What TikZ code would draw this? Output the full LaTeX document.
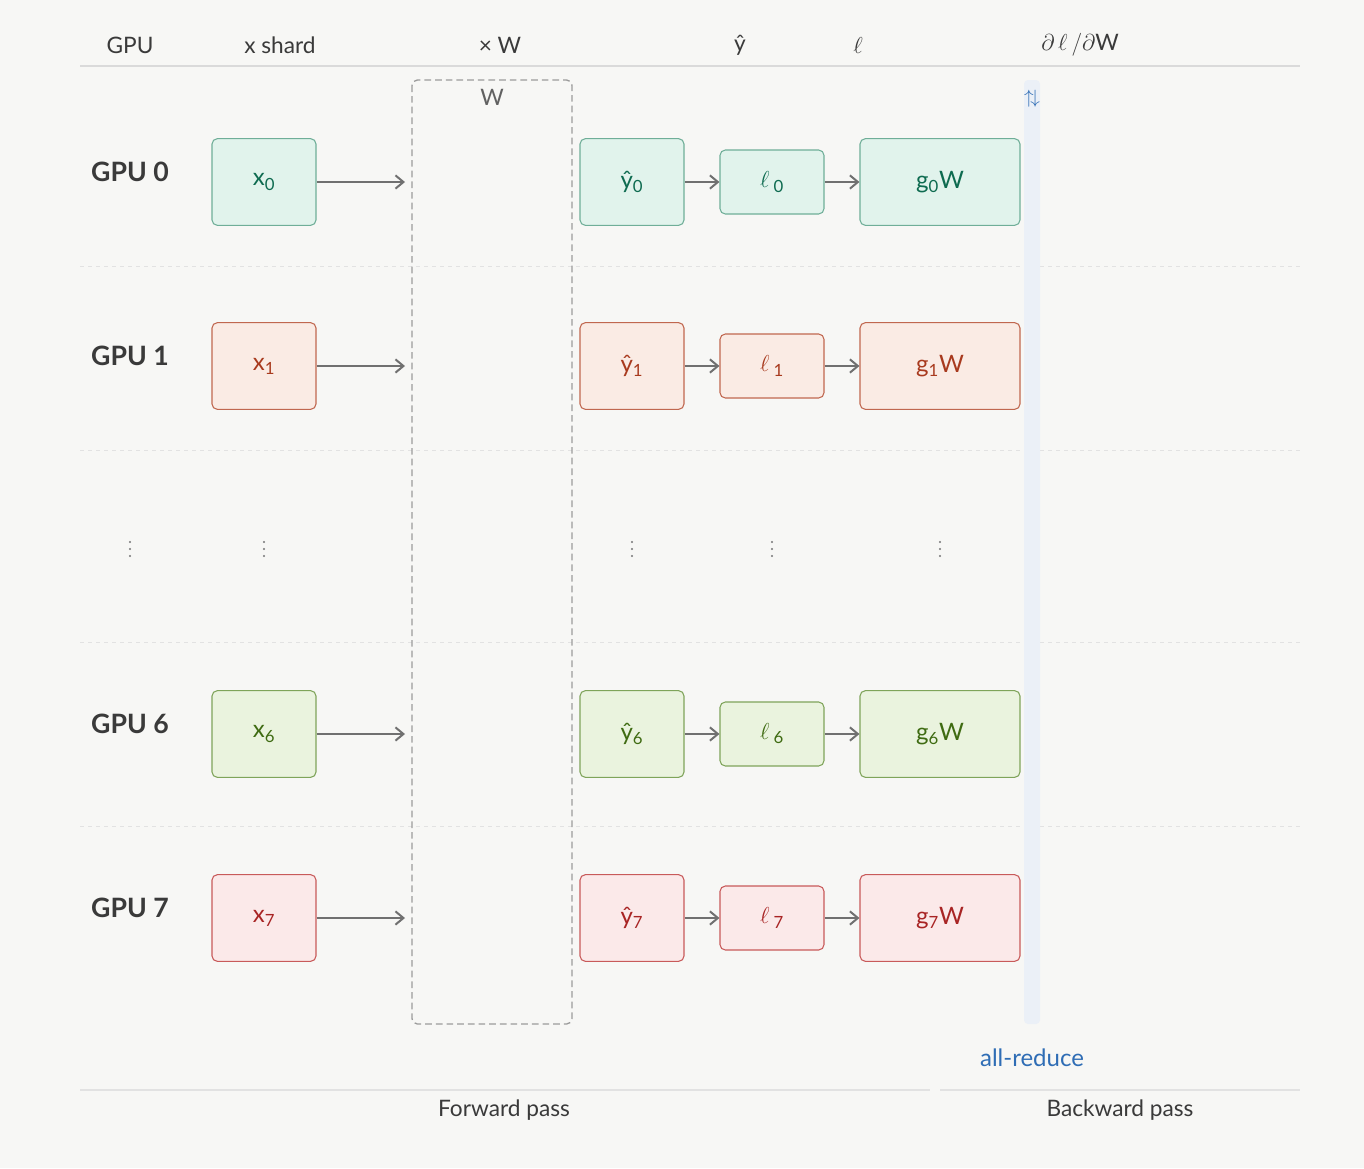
\documentclass[tikz,border=0pt]{standalone}
\usepackage{fontspec}
\setmainfont{Lato}
\usetikzlibrary{arrows.meta}
\definecolor{bgc}{HTML}{F7F7F5}
\definecolor{ink}{HTML}{3A3A3A}
\definecolor{rulec}{HTML}{DADADA}
\definecolor{dotc}{HTML}{E2E2E2}
\definecolor{arrc}{HTML}{707070}
\definecolor{barc}{HTML}{EBF0F7}
\definecolor{bluec}{HTML}{2F6DB5}
\definecolor{fA}{HTML}{E1F3EC}\definecolor{dA}{HTML}{6FAE98}\definecolor{tA}{HTML}{0E6B50}
\definecolor{fB}{HTML}{FAEBE4}\definecolor{dB}{HTML}{C0674F}\definecolor{tB}{HTML}{A83A1E}
\definecolor{fC}{HTML}{EAF3DE}\definecolor{dC}{HTML}{7FA45A}\definecolor{tC}{HTML}{3F6B12}
\definecolor{fD}{HTML}{FBE9E9}\definecolor{dD}{HTML}{C85A5A}\definecolor{tD}{HTML}{A82424}
\begin{document}
\begin{tikzpicture}[x=0.75pt,y=-0.75pt,
    head/.style={text=ink,font=\fontsize{17}{19}\selectfont},
    gpu/.style={text=ink,font=\fontsize{20}{22}\selectfont\bfseries},
    cell/.style={draw=#1,rounded corners=4pt,line width=0.8pt,inner sep=0pt,
      font=\fontsize{18}{20}\selectfont},
    edge/.style={-{Straight Barb[length=6pt,width=10pt]},arrc,line width=1.5pt}]
  \fill[bgc] (0,0) rectangle (1364,1168);
  % header
  \draw[rulec,line width=1pt] (80,66) -- (1300,66);
  \node[head] (hgpu) at (130,45) {GPU};
  \node[head] (hx) at (280,45) {x shard};
  \node[head] (hw) at (500,45) {× W};
  \node[head] (hy) at (740,45) {\^{y}};
  \node[head] (hl) at (858,45) {$\ell$};
  \node[head] (hg) at (1080,45) {$\partial\,\ell\,/\partial$W};
  % row separators
  \foreach \yy in {266,450,642,826}
    \draw[dotc,dash pattern=on 3pt off 3pt,line width=0.6pt] (80,\yy) -- (1300,\yy);
  % shared W and all-reduce bar
  \draw[arrc!70,dash pattern=on 5pt off 3pt,line width=1pt,rounded corners=4pt]
    (412,80) rectangle (572,1024);
  \node[head,text=ink!80] (wlab) at (492,97) {W};
  \fill[barc,rounded corners=3pt] (1024,80) rectangle (1040,1024);
  \node[text=bluec,font=\fontsize{14}{15}\selectfont] (ar) at (1032,99) {$\uparrow\!\downarrow$};
  \node[text=bluec,font=\fontsize{18}{20}\selectfont] (arlab) at (1032,1058) {all-reduce};
  % rows
  \foreach \r/\y/\c in {0/182/A,1/366/B,6/734/C,7/918/D}{
    \node[gpu] (p\r) at (130,\y-10) {GPU \r};
    \node[cell=d\c,fill=f\c,text=t\c,minimum width=78pt,minimum height=65pt] (x\r) at (264,\y) {x\textsubscript{\r}};
    \coordinate (w\r) at (405,\y);
    \node[cell=d\c,fill=f\c,text=t\c,minimum width=78pt,minimum height=65pt] (y\r) at (632,\y) {\^{y}\textsubscript{\r}};
    \node[cell=d\c,fill=f\c,text=t\c,minimum width=78pt,minimum height=48pt] (l\r) at (772,\y) {$\ell$\,\textsubscript{\r}};
    \node[cell=d\c,fill=f\c,text=t\c,minimum width=120pt,minimum height=65pt] (g\r) at (940,\y) {g\textsubscript{\r}W};
    \draw[edge] (x\r) -- (w\r);
    \draw[edge] (y\r) -- (l\r);
    \draw[edge] (l\r) -- (g\r);
  }
  % skipped rows
  \foreach \xx in {130,264,632,772,940}
    \foreach \dy in {-7,0,7}
      \fill[ink!70] (\xx,549+\dy) circle (0.9pt);
  % footer
  \draw[dotc,line width=1.5pt] (80,1090) -- (930,1090);
  \draw[dotc,line width=1.5pt] (940,1090) -- (1300,1090);
  \node[head] (fwd) at (504,1110) {Forward pass};
  \node[head] (bwd) at (1120,1110) {Backward pass};
\end{tikzpicture}
\end{document}
